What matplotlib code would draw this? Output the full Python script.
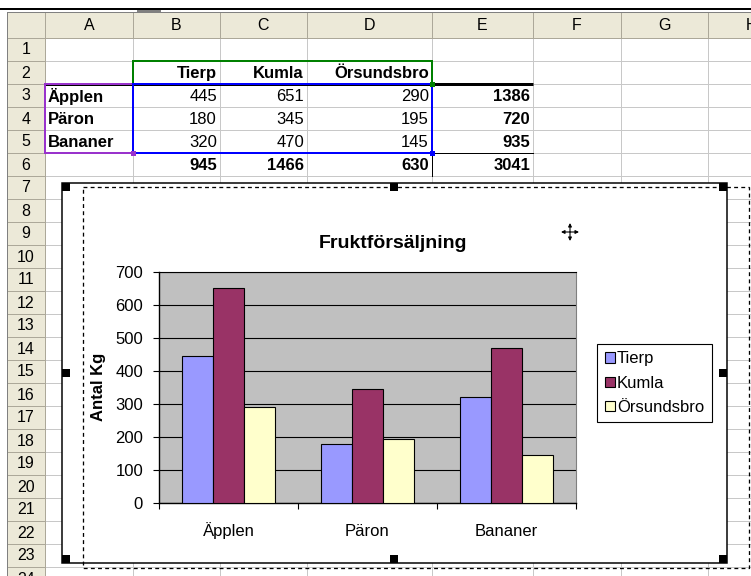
import numpy as np
import matplotlib
matplotlib.use("Agg")
import matplotlib.pyplot as plt
from matplotlib.patches import Rectangle

plt.rcParams['font.family'] = ['Liberation Sans', 'DejaVu Sans']

# ---------------- data ----------------
fruits = ['Äpplen', 'Päron', 'Bananer']
towns = ['Tierp', 'Kumla', 'Örsundsbro']
tierp = [445, 180, 320]
kumla = [651, 345, 470]
orsundsbro = [290, 195, 145]
series = [tierp, kumla, orsundsbro]
bar_colors = ['#9999FF', '#993366', '#FFFFCC']
y_ticks = [0, 100, 200, 300, 400, 500, 600, 700]
col_letters = ['A', 'B', 'C', 'D', 'E', 'F', 'G', 'H']
chart_title = 'Fruktförsäljning'
y_label = 'Antal Kg'

# ---------------- figure / sheet ----------------
W, H = 751, 576
fig = plt.figure(figsize=(W / 100, H / 100), dpi=100)
sheet = fig.add_axes([0, 0, 1, 1], zorder=0)
sheet.set_xlim(0, W)
sheet.set_ylim(H, 0)
sheet.axis('off')

PX = 0.72  # one pixel in points
col_edges = [7, 45, 133, 220, 307, 432, 533, 621, 708, 795]
hdr_top, row_top, row_h = 12, 38, 23
n_rows = 24
row_edges = [row_top + row_h * k for k in range(n_rows + 1)]

def row_c(r):  # center y of spreadsheet row r (1-based)
    return row_top + row_h * (r - 1) + row_h / 2

def col_l(c):  # left x of column index (0 = A)
    return col_edges[c + 1]

def col_r(c):
    return col_edges[c + 2]

grid_c = '#C8C8C8'
hdr_fill = '#ECE9D8'
hdr_line = '#ACA899'

# cell grid
for y in row_edges:
    sheet.plot([45, W], [y, y], color=grid_c, lw=PX, zorder=1)
for x in col_edges[2:]:
    sheet.plot([x, x], [row_top, H], color=grid_c, lw=PX, zorder=1)

# header fills
sheet.add_patch(Rectangle((7, hdr_top), W - 7, row_top - hdr_top, facecolor=hdr_fill, edgecolor='none', zorder=2))
sheet.add_patch(Rectangle((7, hdr_top), 45 - 7, H - hdr_top, facecolor=hdr_fill, edgecolor='none', zorder=2))
for x in col_edges[1:]:
    sheet.plot([x, x], [hdr_top, row_top], color=hdr_line, lw=PX, zorder=3)
for y in row_edges:
    sheet.plot([7, 45], [y, y], color=hdr_line, lw=PX, zorder=3)
sheet.plot([7, W], [row_top, row_top], color=hdr_line, lw=PX, zorder=3)
sheet.plot([45, 45], [hdr_top, H], color=hdr_line, lw=PX, zorder=3)
sheet.plot([7, 7], [hdr_top, H], color='#808080', lw=PX, zorder=3)
# top window lines
sheet.plot([0, W], [8.5, 8.5], color='black', lw=2 * PX, zorder=3)
sheet.plot([7, W], [11.5, 11.5], color='#808080', lw=PX, zorder=3)
sheet.add_patch(Rectangle((137, 9.5), 24, 2.5, facecolor='#808080', edgecolor='none', zorder=3))

# header labels
for i, letter in enumerate(col_letters):
    xc = (col_edges[i + 1] + col_edges[i + 2]) / 2
    sheet.text(xc, (hdr_top + row_top) / 2 + 1, letter, ha='center', va='center', fontsize=11.5, zorder=4)
for r in range(1, n_rows + 1):
    sheet.text(26, row_c(r) + 0.5, str(r), ha='center', va='center', fontsize=11.5, zorder=4)

# cell contents
fs_cell = 12
for j, t in enumerate(towns):
    sheet.text(col_r(j + 1) - 3, row_c(2) + 1, t, ha='right', va='center', fontsize=fs_cell, fontweight='bold', zorder=4)
for i, f in enumerate(fruits):
    sheet.text(col_l(0) + 3, row_c(3 + i) + 1, f, ha='left', va='center', fontsize=fs_cell, fontweight='bold', zorder=4)
    for j, s in enumerate(series):
        sheet.text(col_r(j + 1) - 3, row_c(3 + i) + 1, str(s[i]), ha='right', va='center', fontsize=fs_cell, zorder=4)
    sheet.text(col_r(4) - 3, row_c(3 + i) + 1, str(int(sum(s[i] for s in series))), ha='right', va='center',
               fontsize=fs_cell, fontweight='bold', zorder=4)
for j, s in enumerate(series):
    sheet.text(col_r(j + 1) - 3, row_c(6) + 1, str(int(sum(s))), ha='right', va='center', fontsize=fs_cell,
               fontweight='bold', zorder=4)
sheet.text(col_r(4) - 3, row_c(6) + 1, str(int(sum(sum(s) for s in series))), ha='right', va='center',
           fontsize=fs_cell, fontweight='bold', zorder=4)

# borders
y2b = row_edges[2]
y5b = row_edges[5]
y6b = row_edges[6]
sheet.plot([45, col_r(4)], [y2b, y2b], color='black', lw=3 * PX, zorder=5, solid_capstyle='butt')
sheet.plot([col_l(4), col_r(4)], [y5b, y5b], color='black', lw=PX, zorder=5)
sheet.plot([col_r(3), col_r(3)], [y5b, y6b], color='black', lw=PX, zorder=5)
# colored range outlines
def rng(x0, y0, x1, y1, c):
    sheet.add_patch(Rectangle((x0, y0), x1 - x0, y1 - y0, facecolor='none', edgecolor=c, lw=2 * PX, zorder=6))
    sheet.add_patch(Rectangle((x1 - 2.5, y1 - 2.5), 5, 5, facecolor=c, edgecolor='none', zorder=7))
rng(col_l(1), row_edges[1], col_r(3), row_edges[2], '#008000')
rng(col_l(0), row_edges[2], col_r(0), row_edges[5], '#9933CC')
rng(col_l(1), row_edges[2], col_r(3), row_edges[5], '#0000FF')

# ---------------- chart object ----------------
cx0, cy0, cx1, cy1 = 62, 183, 727, 563
sheet.add_patch(Rectangle((cx0, cy0), cx1 - cx0, cy1 - cy0, facecolor='white', edgecolor='black', lw=1.5 * PX, zorder=8))
hs = 8
xm = (cx0 + cx1) / 2 - 0.5
ym = (cy0 + cy1) / 2
for (hx, hy) in [(cx0, cy0), (xm - hs / 2, cy0), (cx1 - hs, cy0),
                 (cx0, ym - hs / 2), (cx1 - hs, ym - hs / 2),
                 (cx0, cy1 - hs), (xm - hs / 2, cy1 - hs), (cx1 - hs, cy1 - hs)]:
    sheet.add_patch(Rectangle((hx, hy), hs, hs, facecolor='black', edgecolor='none', zorder=10))
sheet.add_patch(Rectangle((83, 187), 749 - 83, 568 - 187, facecolor='none', edgecolor='black',
                          lw=1.3 * PX, linestyle=(0, (3, 2.5)), zorder=9))

# title, axis label
sheet.text(393, 243, chart_title, ha='center', va='center', fontsize=14, fontweight='bold', zorder=11)
sheet.text(98, 387, y_label, ha='center', va='center', rotation=90, fontsize=12, fontweight='bold', zorder=11)

# move cursor
mx, my = 570, 232
for dx, dy in [(9, 0), (-9, 0), (0, 9), (0, -9)]:
    sheet.annotate('', xy=(mx + dx, my + dy), xytext=(mx, my),
                   arrowprops=dict(arrowstyle='-|>', lw=0.8, color='black', mutation_scale=5,
                                   shrinkA=0, shrinkB=0), zorder=11)

# plot area
px0, py0, px1, py1 = 159, 272, 576, 503
ax = fig.add_axes([px0 / W, 1 - py1 / H, (px1 - px0) / W, (py1 - py0) / H], zorder=2)
ax.set_facecolor('#C0C0C0')
x = np.arange(len(fruits))
w = 1 / 4.5
handles = []
for i, (vals, c) in enumerate(zip(series, bar_colors)):
    b = ax.bar(x + (i - 1) * w, vals, w, color=c, edgecolor='black', linewidth=0.8, zorder=3, label=towns[i])
    handles.append(b)
ax.set_xlim(-0.5, len(fruits) - 0.5)
ax.set_ylim(y_ticks[0], y_ticks[-1])
ax.set_yticks(y_ticks)
ax.set_yticklabels([str(v) for v in y_ticks])
ax.yaxis.grid(True, color='black', lw=0.8)
ax.set_axisbelow(True)
ax.set_xticks(np.arange(len(fruits) + 1) - 0.5)
ax.set_xticklabels([])
ax.set_xticks(x, minor=True)
ax.set_xticklabels(fruits, minor=True)
ax.tick_params(axis='x', which='major', direction='out', length=4, width=0.8)
ax.tick_params(axis='x', which='minor', length=0, pad=23.5, labelsize=12)
for lbl in ax.get_xticklabels(minor=True):
    lbl.set_verticalalignment('baseline')
ax.tick_params(axis='y', direction='out', length=4.5, width=0.8, pad=7, labelsize=12)
for sp in ['left', 'bottom']:
    ax.spines[sp].set_color('black')
    ax.spines[sp].set_linewidth(1.0)
ax.spines['top'].set_color('black')
ax.spines['top'].set_linewidth(0.8)
ax.spines['right'].set_color('#808080')
ax.spines['right'].set_linewidth(0.8)

leg = fig.legend(handles, towns, loc='upper left', bbox_to_anchor=(597 / W, 1 - 344 / H),
                 frameon=True, fancybox=False, edgecolor='black', framealpha=1, fontsize=12,
                 handlelength=0.6, handleheight=0.6, handletextpad=0.15, labelspacing=0.55,
                 borderpad=0.45, borderaxespad=0)
leg.get_frame().set_linewidth(0.8)
leg.set_zorder(20)

fig.savefig('out.png', dpi=100)
